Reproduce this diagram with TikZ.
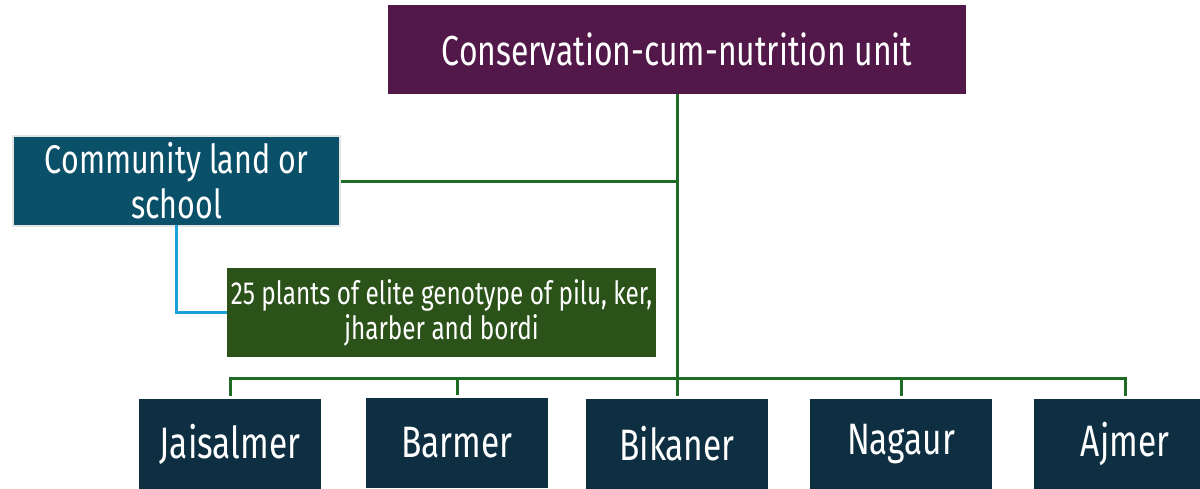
\documentclass[tikz,border=0pt]{standalone}
\usepackage{fontspec}
\setmainfont{Fira Sans}[FakeStretch=0.76]
\usetikzlibrary{positioning}

\definecolor{unitpurple}{HTML}{52184A}
\definecolor{landteal}{HTML}{0B5069}
\definecolor{plantgreen}{HTML}{2A5219}
\definecolor{districtnavy}{HTML}{0E2F42}
\definecolor{linkgreen}{HTML}{1E6B24}
\definecolor{linkblue}{HTML}{1BA1D9}

\begin{document}
\begin{tikzpicture}[x=1pt,y=-1pt,
    box/.style={rectangle, inner sep=0pt, outer sep=0pt, text=white, align=center},
    district/.style={box, fill=districtnavy, minimum width=182pt, minimum height=90pt,
        font=\fontsize{44}{50}\selectfont},
    link/.style={draw=linkgreen, line width=3pt},
    sidelink/.style={draw=linkblue, line width=3pt}]
    \useasboundingbox (0,0) rectangle (1200,488);
    \clip (0,0) rectangle (1200,488);

    % top unit
    \node[box, fill=unitpurple, minimum width=578pt, minimum height=89pt,
        font=\fontsize{42}{50}\selectfont] (unit) at (677,49.5) {Conservation-cum-nutrition unit};

    % community land and plants
    \node[box, fill=landteal, draw=gray!20, line width=2pt, minimum width=327pt, minimum height=90pt,
        font=\fontsize{40}{45}\selectfont] (land) at (176.5,181) {Community land or\\school};
    \node[box, fill=plantgreen, minimum width=429pt, minimum height=89pt,
        font=\fontsize{32}{35}\selectfont] (plants) at (441.5,312.5) {25 plants of elite genotype of pilu, ker,\\jharber and bordi};

    % districts
    \node[district] (jaisalmer) at (230,444) {Jaisalmer};
    \node[district] (barmer) at (457,443) {Barmer};
    \node[district] (bikaner) at (677,444) {Bikaner};
    \node[district] (nagaur) at (901,444) {Nagaur};
    \node[district] (ajmer) at (1125,444) {Ajmer};
    \coordinate (bus) at (677,378);

    % connectors
    \draw[link, shorten >=3pt] (unit.south) -- (bikaner.north);
    \draw[link] (land.east) ++(1pt,0) -- (land.east -| unit.south);
    \draw[sidelink] (land.south) ++(0,1pt) |- (plants.west);
    \draw[link, shorten <=3pt, shorten >=3pt] (jaisalmer.north) -- (jaisalmer.north |- bus)
        -- (ajmer.north |- bus) -- (ajmer.north);
    \foreach \d in {barmer,nagaur}
        \draw[link, shorten >=3pt] (\d.north |- bus) -- (\d.north);
\end{tikzpicture}
\end{document}
